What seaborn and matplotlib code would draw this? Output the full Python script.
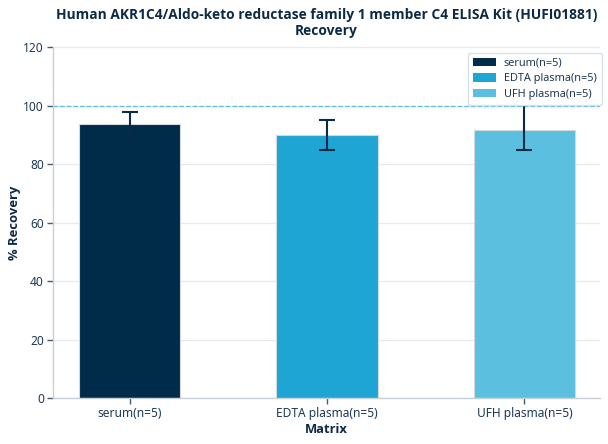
import numpy as np
import pandas as pd
import matplotlib
matplotlib.use('Agg')
import matplotlib.pyplot as plt
import seaborn as sns
from matplotlib.patches import Patch

# Recovery data
matrices = ['serum(n=5)', 'EDTA plasma(n=5)', 'UFH plasma(n=5)']
recovery = [93.6, 89.8, 91.7]
err_low = [4.0, 5.0, 6.9]
err_high = [4.3, 5.1, 15.0]
bar_colors = ['#002b49', '#1fa5d3', '#5bc0e0']

df = pd.DataFrame({'Matrix': matrices, 'Recovery': recovery})

sns.set_theme(style='whitegrid')
plt.rcParams['font.family'] = ['Noto Sans', 'DejaVu Sans']
text_color = '#0d2a45'
bold_font = ['Open Sans', 'DejaVu Sans']

fig = plt.figure(figsize=(6.08, 4.44), dpi=100)
ax = fig.add_axes([0.0872, 0.1036, 0.8997, 0.7905])

sns.barplot(data=df, x='Matrix', y='Recovery', hue='Matrix', palette=bar_colors,
            saturation=1, width=0.513, legend=False, ax=ax, edgecolor='#d0d8e0',
            linewidth=0.8, zorder=2)

x = np.arange(len(matrices))
ax.errorbar(x, recovery, yerr=[err_low, err_high], fmt='none', ecolor='#0b2a45',
            elinewidth=1.5, capsize=5.6, capthick=1.5, zorder=3)

ax.axhline(100, color='#5bc0e0', linestyle='--', linewidth=0.9, zorder=1)

ax.set_xlim(-0.388, 2.383)
ax.set_ylim(0, 120)
ax.set_yticks(range(0, 121, 20))
ax.grid(axis='x', visible=False)
ax.grid(axis='y', color='#e6ebf0', linewidth=1.0)
ax.set_axisbelow(True)
for side in ['top', 'right']:
    ax.spines[side].set_visible(False)
for side in ['left', 'bottom']:
    ax.spines[side].set_color('#c8d0d8')
    ax.spines[side].set_linewidth(1.0)
ax.tick_params(axis='both', length=4, width=1, color='#4a5a6a', labelsize=8.6,
               labelcolor='#1f3a55', pad=2.5, bottom=True, left=True)

ax.set_xlabel('Matrix', fontsize=9.4, fontweight='bold', family=bold_font,
              color=text_color, labelpad=2)
ax.set_ylabel('% Recovery', fontsize=9.4, fontweight='bold', family=bold_font,
              color=text_color, labelpad=2)
ax.set_title('Human AKR1C4/Aldo-keto reductase family 1 member C4 ELISA Kit (HUFI01881)\nRecovery',
             fontsize=9.9, fontweight='bold', family=bold_font, color=text_color,
             pad=9, linespacing=1.15)

handles = [Patch(facecolor=c, edgecolor='none', label=m) for m, c in zip(matrices, bar_colors)]
leg = ax.legend(handles=handles, loc='upper right', fontsize=7.9, frameon=True,
                framealpha=1, edgecolor='#d8e0e8', fancybox=True,
                handlelength=2.1, handleheight=0.8, borderpad=0.45, labelspacing=0.42,
                handletextpad=0.75, bbox_to_anchor=(1.013, 0.999))
leg.set_zorder(5)
for t in leg.get_texts():
    t.set_color('#1f3a55')

fig.savefig('out.png', dpi=100)
